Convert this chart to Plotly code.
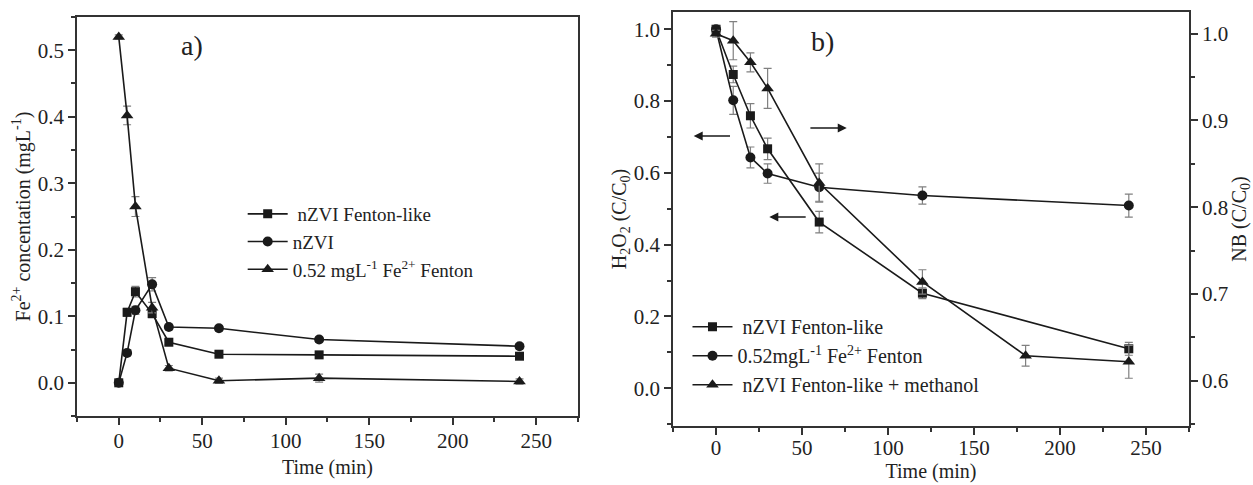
import plotly.graph_objects as go

# ---------------- data ----------------
# Panel a: Fe2+ concentration vs time
time_a = [0, 5, 10, 20, 30, 60, 120, 240]
fe_nzvi_fenton = [0.0, 0.106, 0.137, 0.104, 0.061, 0.043, 0.042, 0.040]
fe_nzvi_fenton_err = [0.002, 0.006, 0.008, 0.006, 0.004, 0.004, 0.004, 0.004]
fe_nzvi = [0.0, 0.045, 0.109, 0.148, 0.084, 0.082, 0.065, 0.055]
fe_nzvi_err = [0.002, 0.004, 0.006, 0.010, 0.004, 0.004, 0.004, 0.004]
fe_fenton = [0.52, 0.402, 0.265, 0.113, 0.022, 0.003, 0.007, 0.002]
fe_fenton_err = [0.003, 0.014, 0.015, 0.008, 0.004, 0.004, 0.006, 0.004]

# Panel b
time_b = [0, 10, 20, 30, 60, 120, 240]
h2o2_nzvi_fenton = [1.0, 0.874, 0.759, 0.667, 0.463, 0.265, 0.110]
h2o2_nzvi_fenton_err = [0.008, 0.023, 0.034, 0.030, 0.030, 0.015, 0.018]
h2o2_fe_fenton = [1.0, 0.802, 0.643, 0.598, 0.560, 0.537, 0.509]
h2o2_fe_fenton_err = [0.008, 0.039, 0.029, 0.027, 0.039, 0.024, 0.032]
time_b_meth = [0, 10, 20, 30, 60, 120, 180, 240]
nb_methanol = [1.0, 0.992, 0.967, 0.937, 0.828, 0.714, 0.629, 0.622]
nb_methanol_err = [0.004, 0.022, 0.011, 0.023, 0.022, 0.014, 0.012, 0.019]

x_ticks = [0, 50, 100, 150, 200, 250]

FONT = "Liberation Serif, Times New Roman, serif"
LINE = "#1a1a1a"
AX = "#333333"
ERR = "#808080"

fig = go.Figure()

def add(x, y, err, name, symbol, size, xa, ya, legend):
    fig.add_trace(go.Scatter(
        x=x, y=y, name=name, mode="lines+markers",
        xaxis=xa, yaxis=ya, legend=legend,
        line=dict(color=LINE, width=1.6),
        marker=dict(symbol=symbol, size=size, color=LINE),
        error_y=dict(type="data", array=err, visible=True,
                     color=ERR, thickness=1.2, width=4),
    ))

add(time_a, fe_nzvi_fenton, fe_nzvi_fenton_err, "\u00a0nZVI Fenton-like", "square", 9, "x", "y", "legend")
add(time_a, fe_nzvi, fe_nzvi_err, "nZVI", "circle", 10, "x", "y", "legend")
add(time_a, fe_fenton, fe_fenton_err, "0.52 mgL<sup>-1</sup> Fe<sup>2+</sup> Fenton", "triangle-up", 11, "x", "y", "legend")

add(time_b, h2o2_nzvi_fenton, h2o2_nzvi_fenton_err, "\u00a0nZVI Fenton-like", "square", 9, "x2", "y2", "legend2")
add(time_b, h2o2_fe_fenton, h2o2_fe_fenton_err, "0.52mgL<sup>-1</sup> Fe<sup>2+</sup> Fenton", "circle", 10, "x2", "y2", "legend2")
add(time_b_meth, nb_methanol, nb_methanol_err, "\u00a0nZVI Fenton-like + methanol", "triangle-up", 11, "x2", "y3", "legend2")

tickfont = dict(family=FONT, size=21, color="#222")
titlefont = dict(family=FONT, size=20, color="#222")

def xaxis(domain, anchor, standoff, labelshift=0):
    return dict(
        domain=domain, anchor=anchor, range=[-25, 275],
        tickmode="array", tickvals=x_ticks, ticktext=[str(v) for v in x_ticks],
        ticks="outside", ticklen=7, tickwidth=1.5, tickcolor=AX,
        ticklabelstandoff=labelshift,
        minor=dict(tickmode="linear", tick0=25, dtick=50, ticks="outside",
                   ticklen=4, tickwidth=1.5, tickcolor=AX, showgrid=False),
        showline=True, linecolor=AX, linewidth=1.8, mirror=True,
        showgrid=False, zeroline=False, tickfont=tickfont,
        title=dict(text="Time (min)", font=titlefont, standoff=standoff),
    )

def yaxis(domain, anchor, rng, dtick, minor, title, side="left", standoff=6, overlaying=None, mirror=True):
    d = dict(
        domain=domain, anchor=anchor, range=rng, side=side,
        tickmode="linear", tick0=0, dtick=dtick, tickformat=".1f",
        ticks="outside", ticklen=7, tickwidth=1.5, tickcolor=AX,
        minor=dict(tickmode="linear", tick0=0, dtick=minor, ticks="outside",
                   ticklen=4, tickwidth=1.5, tickcolor=AX, showgrid=False),
        showline=True, linecolor=AX, linewidth=1.8, mirror=mirror,
        showgrid=False, zeroline=False, tickfont=tickfont,
        title=dict(text=title, font=titlefont, standoff=standoff),
    )
    if overlaying:
        d["overlaying"] = overlaying
    return d

fig.update_layout(
    width=1253, height=485,
    margin=dict(l=77, r=64, t=10, b=57),
    paper_bgcolor="white", plot_bgcolor="white",
    font=dict(family=FONT, size=20, color="#222"),
    xaxis=xaxis([0, 0.4505], "y", 8, -2),
    yaxis=yaxis([0.024, 0.988], "x", [-0.05, 0.55], 0.1, 0.05,
                "Fe<sup>2+</sup> concentation (mgL<sup>-1</sup>)", standoff=2),
    xaxis2=xaxis([0.536, 1.0], "y2", 0, -5),
    yaxis2=yaxis([0, 1], "x2", [-0.105, 1.048], 0.2, 0.1,
                 "H<sub>2</sub>O<sub>2</sub> (C/C<sub>0</sub>)", standoff=2),
    yaxis3=yaxis([0, 1], "x2", [0.548, 1.025], 0.1, 0.05,
                 "NB (C/C<sub>0</sub>)", side="right", standoff=1,
                 overlaying="y2", mirror=False),
    legend=dict(x=0.149, y=0.558, xanchor="left", yanchor="top",
                bgcolor="rgba(0,0,0,0)", font=dict(family=FONT, size=19, color="#222"),
                itemwidth=40, tracegroupgap=0),
    legend2=dict(x=0.549, y=0.287, xanchor="left", yanchor="top",
                 bgcolor="rgba(0,0,0,0)", font=dict(family=FONT, size=20, color="#222"),
                 itemwidth=40, tracegroupgap=0),
    showlegend=True,
)

# panel labels
fig.add_annotation(x=44, y=0.507, xref="x", yref="y", text="a)", showarrow=False,
                   font=dict(family=FONT, size=28, color="#222"))
fig.add_annotation(x=62, y=0.966, xref="x2", yref="y2", text="b)", showarrow=False,
                   font=dict(family=FONT, size=28, color="#222"))

# axis-indicating arrows in panel b
arrows = [(-13, 0.703, 9, 0.703), (76, 0.725, 54, 0.725), (31, 0.477, 53, 0.477)]
for hx, hy, tx, ty in arrows:
    fig.add_annotation(x=hx, y=hy, ax=tx, ay=ty, xref="x2", yref="y2",
                       axref="x2", ayref="y2", text="", showarrow=True,
                       arrowhead=2, arrowsize=1.2, arrowwidth=1.5, arrowcolor=LINE)

fig.write_html("out.html",
               config={"displayModeBar": False},
               post_script="document.body.style.margin='0';document.body.style.padding='0';")
